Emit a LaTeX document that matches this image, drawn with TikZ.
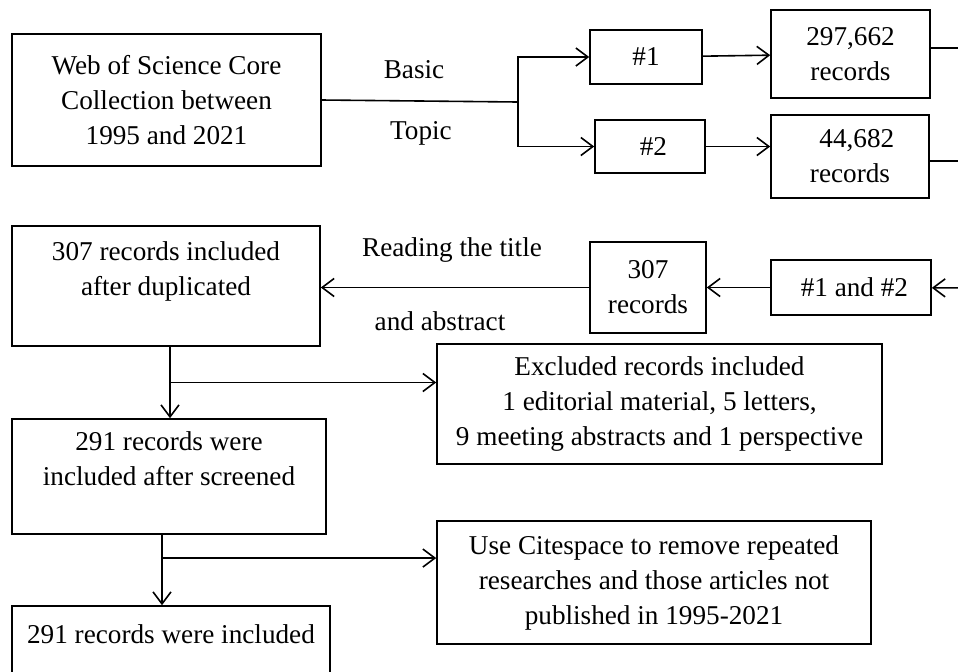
\documentclass[tikz,border=0pt]{standalone}
\usepackage{fontspec}
\setmainfont{Liberation Serif}
\usetikzlibrary{arrows.meta,calc}

\tikzset{
	box/.style 2 args={draw,line width=.8pt,minimum width=#1*.5pt,minimum height=#2*.5pt,
		inner sep=0pt,align=center},
	lbl/.style={inner sep=0pt},
	>={Straight Barb[length=6pt,width=9pt]}
}

\begin{document}
\begin{tikzpicture}[x=.5pt,y=-.5pt,line width=.8pt,font=\fontsize{13.6}{17.5}\selectfont]
	\clip (0,0) rectangle (958,671);
	
	\node[box={309}{132}] (wos) at (166.5,100) {Web of Science Core\\Collection between\\1995 and 2021};
	\node[box={112}{54}] (q1) at (646,57) {\#1};
	\node[box={110}{53}] (q2) at (650,146.5) {\ \#2};
	\node[box={159}{88}] (r1) at (850.5,54) {297,662\\records};
	\node[box={158}{83}] (r2) at (850,156.5) {\ \ 44,682\\records};
	\node[box={160}{55}] (both) at (851,287.5) {\ \#1 and \#2};
	\node[box={116}{91}] (n307) at (648,287.5) {307\\records};
	\node[box={308}{120}] (inc307) at (166,286) {307 records included\\after duplicated\\\mbox{}};
	\node[box={445}{120}] (excl) at (659.5,404) {Excluded records included\\1 editorial material, 5 letters,\\9 meeting abstracts and 1 perspective};
	\node[box={314}{115}] (scr) at (169,476.5) {291 records were\\included after screened\\\mbox{}};
	\node[box={434}{123}] (cite) at (654,582.5) {Use Citespace to remove repeated\\researches and those articles not\\published in 1995-2021};
	\node[box={318}{126}] (last) at (171,669) {291 records were included\\\mbox{}\\\mbox{}};
	
	\node[lbl] (basic) at (414,70) {Basic};
	\node[lbl] (topic) at (421,133) {Topic};
	\node[lbl] (title) at (452,250) {Reading the title};
	\node[lbl] (abst) at (440,321) {and abstract};
	
	\coordinate (split) at (518,102);
	\coordinate (e1) at (975,48);
	\coordinate (e2) at (975,161);
	\coordinate (e3) at (975,288);
	
	\draw (wos.east) -- (split);
	\draw[->] (split) |- (q1.west);
	\draw[->] (split) |- (q2.west);
	\draw[->] (q1) -- (r1);
	\draw[->] (q2.east) -- (q2.east -| r2.west);
	\draw (r1.east |- e1) -- (e1);
	\draw (r2.east |- e2) -- (e2);
	\draw[->] (e3) -- (both);
	\draw[->] (both) -- (n307);
	\draw[->] (n307.west) -- (n307.west -| inc307.east);
	
	\draw[->] ([xshift=2pt]inc307.south) -- ([xshift=2pt]inc307.south |- scr.north);
	\draw[->] ($([xshift=2pt]inc307.south)!.5!([xshift=2pt]inc307.south |- scr.north)$) -- ++(265,0) coordinate (x1) -- (x1 -| excl.west);
	\draw[->] ([xshift=-3.5pt]scr.south) -- ([xshift=-3.5pt]scr.south |- last.north);
	\draw[->] ($([xshift=-3.5pt]scr.south)!.33!([xshift=-3.5pt]scr.south |- last.north)$) -- ++(100,0) coordinate (x2) -- (x2 -| cite.west);
\end{tikzpicture}
\end{document}
